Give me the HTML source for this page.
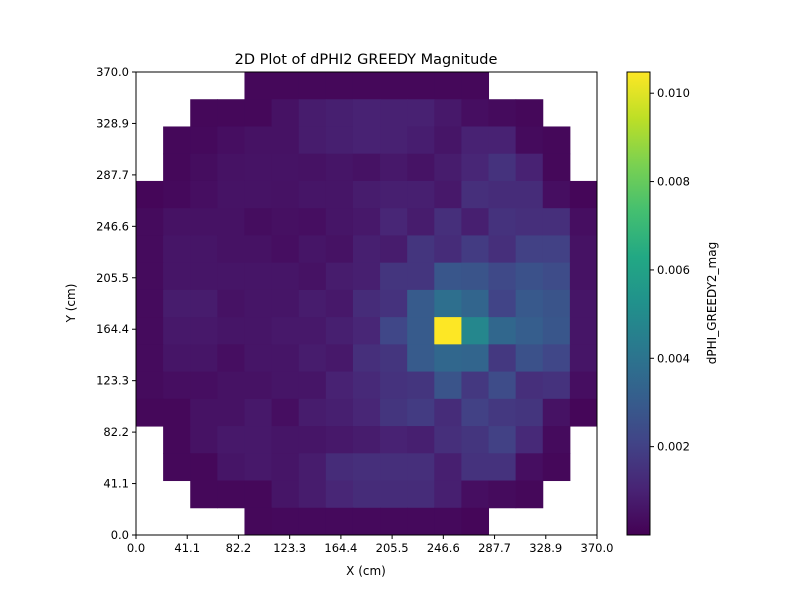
<!DOCTYPE html>
<html><head><meta charset="utf-8">
<style>
body{margin:0;background:#fff;font-family:"Liberation Sans","DejaVu Sans",sans-serif;}
svg text{font-family:"DejaVu Sans","Liberation Sans",sans-serif;}
</style></head>
<body>
<svg id="chart" width="800" height="600" xmlns="http://www.w3.org/2000/svg">
<rect width="800" height="600" fill="#fff"/>
<text x="366" y="64" text-anchor="middle" font-size="14.5">2D Plot of dPHI2 GREEDY Magnitude</text>
<g id="cells"></g>
<rect x="136" y="72" width="461" height="463" fill="none" stroke="#000" stroke-width="1"/>
<g id="xaxis"></g>
<g id="yaxis"></g>
<text x="366" y="575" text-anchor="middle" font-size="12">X (cm)</text>
<text x="0" y="0" transform="translate(75,303) rotate(-90)" text-anchor="middle" font-size="12">Y (cm)</text>
<defs><linearGradient id="vir" x1="0" y1="1" x2="0" y2="0"></linearGradient></defs>
<rect x="627" y="72" width="23" height="463" fill="url(#vir)"/>
<rect x="627" y="72" width="23" height="463" fill="none" stroke="#000" stroke-width="1"/>
<g id="cbaxis"></g>
<text x="0" y="0" transform="translate(716,303) rotate(-90)" text-anchor="middle" font-size="12">dPHI_GREEDY2_mag</text>
</svg>
<script>
const N=null;
// values in units of 1e-3, rows listed top (high Y) to bottom
const gridValues=[
[N,N,N,N,0.2,0.2,0.2,0.2,0.2,0.2,0.2,0.2,0.2,N,N,N,N],
[N,N,0.2,0.2,0.2,0.5,0.8,0.9,1.0,0.95,0.95,0.7,0.4,0.3,0.2,N,N],
[N,0.2,0.25,0.4,0.5,0.5,0.8,0.9,1.0,0.95,0.85,0.6,1.0,1.0,0.3,0.2,N],
[N,0.2,0.35,0.5,0.55,0.55,0.5,0.6,0.5,0.7,0.55,0.8,1.1,1.5,1.0,0.2,N],
[0.15,0.25,0.4,0.55,0.55,0.5,0.6,0.6,0.8,0.9,0.9,0.7,1.4,1.3,1.3,0.4,0.15],
[0.3,0.5,0.5,0.5,0.35,0.45,0.4,0.6,0.7,1.1,0.8,1.4,0.9,1.5,1.4,1.4,0.4],
[0.3,0.6,0.6,0.5,0.5,0.4,0.6,0.5,0.9,0.8,1.6,1.3,1.8,1.4,2.0,2.0,0.5],
[0.3,0.6,0.6,0.6,0.6,0.6,0.5,0.8,0.9,1.6,1.6,2.8,2.7,2.3,2.6,2.4,0.5],
[0.3,0.8,0.8,0.5,0.6,0.6,0.8,0.7,1.3,1.5,3.0,3.8,3.4,2.1,2.9,2.7,0.6],
[0.3,0.7,0.7,0.6,0.6,0.7,0.7,0.9,1.1,2.2,3.0,10.5,4.8,3.5,3.1,2.8,0.6],
[0.3,0.6,0.6,0.4,0.6,0.6,0.8,0.7,1.4,1.6,3.0,3.5,3.4,1.7,2.6,2.2,0.6],
[0.3,0.4,0.4,0.5,0.5,0.6,0.6,1.0,1.2,1.5,1.6,2.7,1.7,2.4,1.4,1.5,0.4],
[0.2,0.2,0.5,0.5,0.7,0.4,0.8,0.9,1.1,1.6,1.8,1.3,2.0,1.7,1.6,0.5,0.15],
[N,0.2,0.5,0.7,0.7,0.6,0.6,0.7,0.8,1.0,0.9,1.4,1.6,2.0,1.2,0.3,N],
[N,0.2,0.2,0.6,0.7,0.6,0.8,1.3,1.4,1.4,1.4,0.9,1.5,1.5,0.4,0.2,N],
[N,N,0.2,0.2,0.2,0.6,0.8,1.1,1.3,1.3,1.3,0.9,0.4,0.3,0.2,N,N],
[N,N,N,N,0.2,0.25,0.25,0.25,0.25,0.25,0.25,0.25,0.15,N,N,N,N]
];
const axisTicks=["0.0","41.1","82.2","123.3","164.4","205.5","246.6","287.7","328.9","370.0"];
const cbTicks=["0.002","0.004","0.006","0.008","0.010"];
const vmin=0, vmax=10.48;

const NS="http://www.w3.org/2000/svg";
const vir=["#440154","#482475","#414487","#355f8d","#2a788e","#21918c","#22a884","#44bf70","#7ad151","#bddf26","#fde725"];
function hex(c){return [1,3,5].map(i=>parseInt(c.substr(i,2),16));}
function color(v){let t=Math.max(0,Math.min(1,(v-vmin)/(vmax-vmin)))*10;let i=Math.min(9,Math.floor(t)),f=t-i;
 const a=hex(vir[i]),b=hex(vir[i+1]);return "rgb("+a.map((x,k)=>Math.round(x+(b[k]-x)*f)).join(",")+")";}
const X0=136,X1=597,Y0=72,Y1=535;
const nR=gridValues.length,nC=gridValues[0].length;
const cw=(X1-X0)/nC,ch=(Y1-Y0)/nR;
const cells=document.getElementById('cells');
gridValues.forEach((row,r)=>row.forEach((v,c)=>{if(v===null)return;
 const e=document.createElementNS(NS,'rect');
 e.setAttribute('x',X0+c*cw);e.setAttribute('y',Y0+r*ch);
 e.setAttribute('width',cw+0.5);e.setAttribute('height',ch+0.5);
 e.setAttribute('fill',color(v));
 
 
 cells.appendChild(e);}));
function add(p,tag,at,txt){const e=document.createElementNS(NS,tag);for(const k in at)e.setAttribute(k,at[k]);if(txt)e.textContent=txt;p.appendChild(e);return e;}
const xa=document.getElementById('xaxis'),ya=document.getElementById('yaxis');
axisTicks.forEach((t,i)=>{const f=i/(axisTicks.length-1);
 const x=X0+f*(X1-X0),y=Y1-f*(Y1-Y0);
 add(xa,'line',{x1:x,x2:x,y1:Y1,y2:Y1+4,stroke:'#000'});
 const tx=add(xa,'text',{x:x,y:Y1+17,'text-anchor':'middle','font-size':'11.5'},t);
 
 
 add(ya,'line',{x1:X0-4,x2:X0,y1:y,y2:y,stroke:'#000'});
 const ty=add(ya,'text',{x:X0-7,y:y+4,'text-anchor':'end','font-size':'11.5'},t);
 
 });
const g=document.getElementById('vir');
vir.forEach((c,i)=>add(g,'stop',{offset:(i*10)+'%','stop-color':c}));
const cb=document.getElementById('cbaxis');
cbTicks.forEach(t=>{const v=parseFloat(t)*1000;const y=Y1-(v-vmin)/(vmax-vmin)*(Y1-Y0);
 add(cb,'line',{x1:650,x2:654,y1:y,y2:y,stroke:'#000'});
 const e=add(cb,'text',{x:657,y:y+4,'font-size':'11.5'},t);
 
 });
</script>
</body></html>
